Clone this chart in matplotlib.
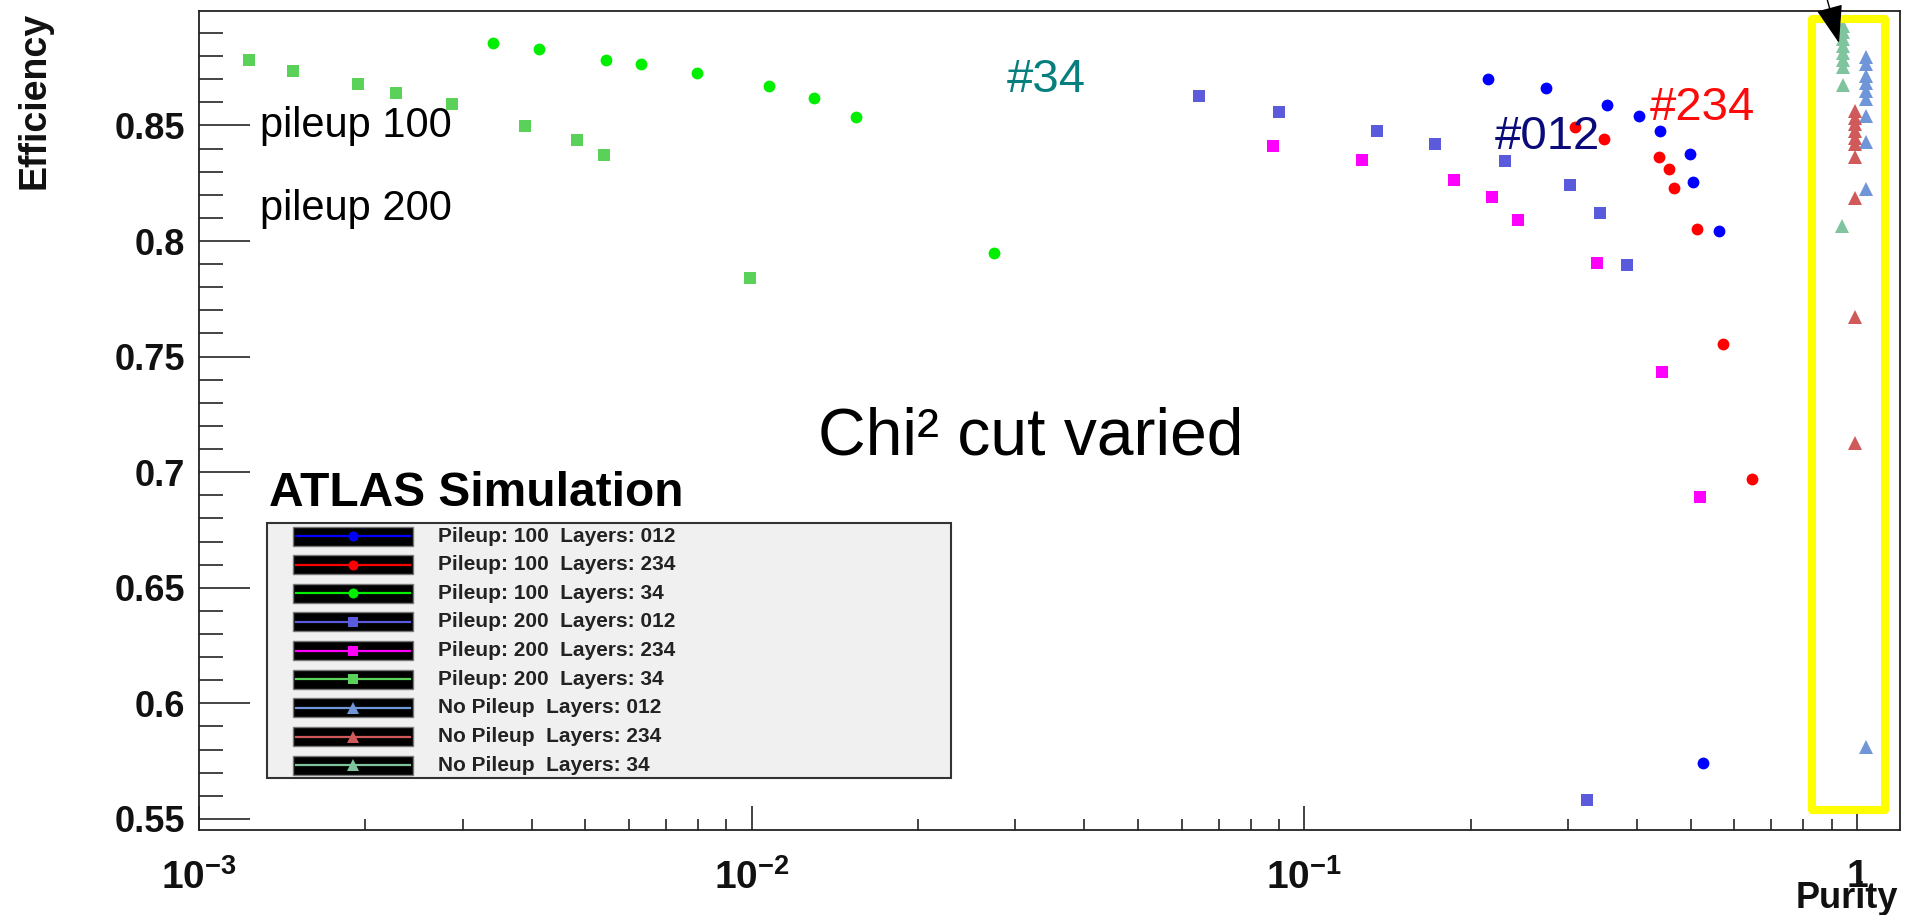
import matplotlib
matplotlib.use("Agg")
import matplotlib.pyplot as plt
import matplotlib.ticker as mticker
from matplotlib.patches import Rectangle, FancyArrowPatch
from matplotlib.lines import Line2D

plt.rcParams['font.family'] = ['Liberation Sans', 'DejaVu Sans']
plt.rcParams['mathtext.fontset'] = 'custom'
plt.rcParams['mathtext.rm'] = 'Liberation Sans'
plt.rcParams['mathtext.bf'] = 'Liberation Sans:bold'
plt.rcParams['mathtext.it'] = 'Liberation Sans:italic'

# ---------------- data ----------------
pu100_l012_purity = [0.2147, 0.2736, 0.3524, 0.4037, 0.4395, 0.4994, 0.5050, 0.5634, 0.5264]
pu100_l012_eff = [0.8699, 0.8660, 0.8589, 0.8539, 0.8478, 0.8377, 0.8256, 0.8044, 0.5740]

pu100_l234_purity = [0.3084, 0.3485, 0.4387, 0.4574, 0.4665, 0.5140, 0.5722, 0.6457]
pu100_l234_eff = [0.8494, 0.8442, 0.8365, 0.8310, 0.8229, 0.8050, 0.7555, 0.6972]

pu100_l34_purity = [0.003405, 0.004124, 0.005445, 0.006295, 0.007953, 0.010745, 0.012972, 0.015456, 0.02743]
pu100_l34_eff = [0.8855, 0.8832, 0.8784, 0.8764, 0.8725, 0.8670, 0.8620, 0.8535, 0.7950]

pu200_l012_purity = [0.06457, 0.08995, 0.1353, 0.1721, 0.2310, 0.3024, 0.3431, 0.3842, 0.3253]
pu200_l012_eff = [0.8626, 0.8558, 0.8477, 0.8420, 0.8346, 0.8242, 0.8119, 0.7898, 0.5580]

pu200_l234_purity = [0.08774, 0.1269, 0.1867, 0.2182, 0.2435, 0.3385, 0.4446, 0.5199]
pu200_l234_eff = [0.8411, 0.8352, 0.8262, 0.8191, 0.8091, 0.7903, 0.7435, 0.6894]

pu200_l34_purity = [0.001232, 0.001481, 0.001939, 0.002274, 0.002871, 0.003888, 0.004828, 0.005408, 0.009925]
pu200_l34_eff = [0.8783, 0.8734, 0.8681, 0.8640, 0.8592, 0.8499, 0.8438, 0.8373, 0.7841]

nopu_l012_purity = [1.04, 1.04, 1.04, 1.04, 1.04, 1.04, 1.04, 1.04, 1.04, 1.04]
nopu_l012_eff = [0.8794, 0.8764, 0.8712, 0.8682, 0.8647, 0.8613, 0.8539, 0.8429, 0.8227, 0.5812]

nopu_l234_purity = [0.99, 0.99, 0.99, 0.99, 0.99, 0.99, 0.99, 0.99, 0.99, 0.99]
nopu_l234_eff = [0.8561, 0.8532, 0.8504, 0.8474, 0.8446, 0.8418, 0.8364, 0.8188, 0.7673, 0.7128]

nopu_l34_purity = [0.945, 0.945, 0.945, 0.945, 0.945, 0.945, 0.945, 0.945, 0.94]
nopu_l34_eff = [0.8929, 0.8903, 0.8872, 0.8842, 0.8812, 0.8781, 0.8751, 0.8677, 0.8063]

legend_labels = ["Pileup: 100  Layers: 012", "Pileup: 100  Layers: 234", "Pileup: 100  Layers: 34",
                 "Pileup: 200  Layers: 012", "Pileup: 200  Layers: 234", "Pileup: 200  Layers: 34",
                 "No Pileup  Layers: 012", "No Pileup  Layers: 234", "No Pileup  Layers: 34"]

x_ticks = [1e-3, 1e-2, 1e-1, 1]
x_tick_labels = [r'$\mathbf{10^{-3}}$', r'$\mathbf{10^{-2}}$', r'$\mathbf{10^{-1}}$', r'$\mathbf{1}$']
y_ticks = [0.55, 0.6, 0.65, 0.7, 0.75, 0.8, 0.85]
y_tick_labels = ["0.55", "0.6", "0.65", "0.7", "0.75", "0.8", "0.85"]

series = [
    (pu100_l012_purity, pu100_l012_eff, 'o', '#0000ff', 8.5),
    (pu100_l234_purity, pu100_l234_eff, 'o', '#ff0000', 8.5),
    (pu100_l34_purity, pu100_l34_eff, 'o', '#00ee00', 8.5),
    (pu200_l012_purity, pu200_l012_eff, 's', '#5a5adc', 8.6),
    (pu200_l234_purity, pu200_l234_eff, 's', '#ff00ff', 8.6),
    (pu200_l34_purity, pu200_l34_eff, 's', '#5ad25a', 8.6),
    (nopu_l012_purity, nopu_l012_eff, '^', '#7096d8', 10.0),
    (nopu_l234_purity, nopu_l234_eff, '^', '#d05a5a', 10.0),
    (nopu_l34_purity, nopu_l34_eff, '^', '#80c49e', 10.0),
]

# ---------------- figure ----------------
W, H = 1919, 915
fig = plt.figure(figsize=(W / 100, H / 100), dpi=100)
fig.patch.set_facecolor('white')


def px(x, y):
    return (x / W, 1 - y / H)


ax = fig.add_axes([199 / W, 1 - 830 / H, (1900 - 199) / W, (830 - 11) / H])
ax.set_xscale('log')
ax.set_xlim(1e-3, 1.196)
ax.set_ylim(0.5452, 0.8995)

for xs, ys, m, c, ms in series:
    ax.plot(xs, ys, linestyle='none', marker=m, color=c, ms=ms, mew=0, zorder=3)

ax.set_xticks(x_ticks, labels=x_tick_labels)
ax.xaxis.set_minor_locator(mticker.LogLocator(base=10, subs=[2, 3, 4, 5, 6, 7, 8, 9], numticks=20))
ax.xaxis.set_minor_formatter(mticker.NullFormatter())
ax.set_yticks(y_ticks, labels=y_tick_labels, fontweight='bold')
ax.yaxis.set_minor_locator(mticker.MultipleLocator(0.01))

ax.tick_params(axis='y', which='major', direction='in', length=36.7, width=1.1, pad=10,
               labelsize=26, colors='#111111')
ax.tick_params(axis='y', which='minor', direction='in', length=17.3, width=1.1, colors='#111111')
ax.tick_params(axis='x', which='major', direction='in', length=17.3, width=1.1, pad=21,
               labelsize=28, colors='#111111')
ax.tick_params(axis='x', which='minor', direction='in', length=8, width=1.1, colors='#111111')
for sp in ax.spines.values():
    sp.set_linewidth(1.3)
    sp.set_color('#222222')

# axis titles
fig.text(*px(45, 12), "Efficiency", rotation=90, rotation_mode='anchor', ha='right', va='baseline',
         fontsize=27, fontweight='bold', color='#111111')
fig.text(*px(1898, 908), "Purity", ha='right', va='baseline', fontsize=26, fontweight='bold',
         color='#111111')

# annotations in the plot
ax.text(0.001288, 0.8452, "pileup 100", fontsize=30, color='black', va='baseline', ha='left')
ax.text(0.001288, 0.8093, "pileup 200", fontsize=30, color='black', va='baseline', ha='left')
ax.text(0.02897, 0.8643, "#34", fontsize=34, color='#087f7f', va='baseline', ha='left')
ax.text(0.2213, 0.8400, "#012", fontsize=34, color='#0a0a7a', va='baseline', ha='left')
ax.text(0.4220, 0.8522, "#234", fontsize=34, color='#ff0a0a', va='baseline', ha='left')
ax.text(0.01318, 0.7076, "Chi² cut varied", fontsize=47.5, color='black', va='baseline', ha='left')
ax.text(0.00134, 0.6853, "ATLAS Simulation", fontsize=34.5, fontweight='bold', color='black',
        va='baseline', ha='left')

# legend (ROOT style)
fig.add_artist(Rectangle(px(267, 778), (951 - 267) / W, (778 - 523) / H, transform=fig.transFigure,
                         facecolor='#f0f0f0', edgecolor='#333333', lw=1.5, zorder=5))
for i, (lab, (xs, ys, m, c, ms)) in enumerate(zip(legend_labels, series)):
    yc = 536 + i * 28.65
    fig.add_artist(Rectangle(px(293, yc + 9.5), (413 - 293) / W, 19 / H, transform=fig.transFigure,
                             facecolor='black', edgecolor='#777777', lw=1.0, zorder=6))
    fig.add_artist(Line2D([296 / W, 410 / W], [1 - yc / H, 1 - yc / H], transform=fig.transFigure,
                          color=c, lw=1.6, zorder=7))
    fig.add_artist(Line2D([353 / W], [1 - yc / H], transform=fig.transFigure, marker=m,
                          color=c, ms=ms * 0.85, mew=0, linestyle='none', zorder=8))
    fig.text(438 / W, 1 - yc / H, lab, fontsize=15, fontweight='bold', color='#222222',
             va='center', ha='left', zorder=8)

# yellow highlight box and arrow
fig.add_artist(Rectangle(px(1812, 810), (1884.5 - 1812) / W, (810 - 19) / H, transform=fig.transFigure,
                         fill=False, edgecolor='#ffff00', lw=5.8, joinstyle='round', zorder=10))
fig.add_artist(FancyArrowPatch(px(1826, -5), px(1839, 43), transform=fig.transFigure,
                               arrowstyle='-|>,head_length=1.2,head_width=0.42', mutation_scale=20,
                               color='black', lw=1.0, shrinkA=0, shrinkB=0, zorder=11))

fig.savefig("out.png", dpi=100, facecolor='white')
